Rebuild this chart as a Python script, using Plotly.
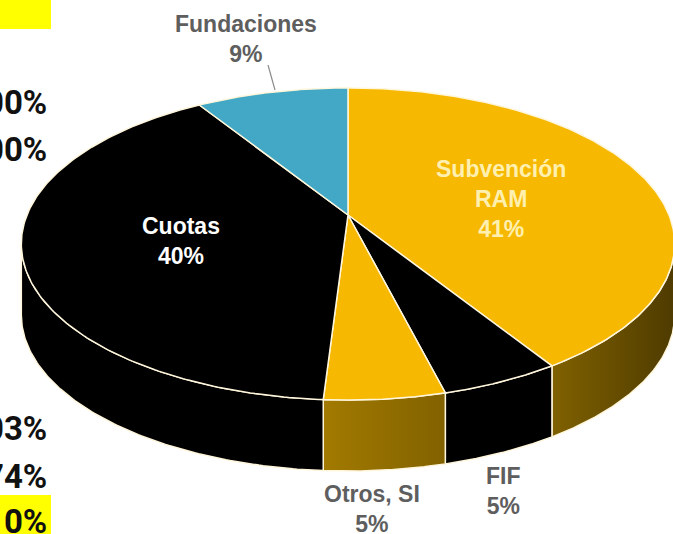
import numpy as np
import plotly.graph_objects as go

# ---------------- data ----------------
categories = ["Subvención RAM", "FIF", "Otros, SI", "Cuotas", "Fundaciones"]
values = [41, 5, 5, 40, 9]
side_fragments = ["00%", "00%", "03%", "74%", "10%"]

# ---------------- styles ----------------
top_colors = ["#F6B800", "#000000", "#F6B800", "#000000", "#42A8C5"]
side_scales = [
    [[0, "#806100"], [1, "#4E3B00"]],
    [[0, "#000000"], [1, "#000000"]],
    [[0, "#A27A00"], [1, "#826200"]],
    [[0, "#000000"], [1, "#000000"]],
    [[0, "#2A6F84"], [1, "#2A6F84"]],
]
label_colors = ["#FFF0B0", "#5E5E5E", "#5E5E5E", "#FFFFFF", "#5E5E5E"]
label_pos = [(501, 199), (503, 491), (372, 509), (181, 241), (246, 39)]
edge = "#FFF6DC"

W, H = 673, 534
cx, cy = 348, 215          # screen position of the pie centre
D = 4.76                    # camera distance (pie radius = 1)
th = np.radians(28)         # elevation
f = 1528                    # focal scale
depth_px = 71               # pie thickness on screen

ct, st = np.cos(th), np.sin(th)


def proj(X, Y):
    d = Y * ct + D
    up = Y * st
    return cx + f * X / d, cy - f * up / d


total = sum(values)
cum = np.concatenate([[0], np.cumsum(values)]) / total * 2 * np.pi

fig = go.Figure()

# visible range of the outer wall: between the horizontal extremes of the rim
phi_s = np.arccos(-ct / D)
vis0, vis1 = phi_s, 2 * np.pi - phi_s

# side walls
for i in range(len(values)):
    a0, a1 = max(cum[i], vis0), min(cum[i + 1], vis1)
    if a1 <= a0:
        continue
    phi = np.linspace(a0, a1, 120)
    xt, yt = proj(np.sin(phi), np.cos(phi))
    xs = np.concatenate([xt, xt[::-1], xt[:1]])
    ys = np.concatenate([yt, yt[::-1] + depth_px, yt[:1]])
    fig.add_trace(go.Scatter(
        x=xs, y=ys, mode="lines", fill="toself",
        fillgradient=dict(type="horizontal", colorscale=side_scales[i]),
        line=dict(color=edge, width=1.5), hoverinfo="skip", showlegend=False))

# top faces
for i in range(len(values)):
    phi = np.linspace(cum[i], cum[i + 1], 200)
    xa, ya = proj(np.sin(phi), np.cos(phi))
    x0, y0 = proj(0.0, 0.0)
    xs = np.concatenate([[x0], xa, [x0]])
    ys = np.concatenate([[y0], ya, [y0]])
    fig.add_trace(go.Scatter(
        x=xs, y=ys, mode="lines", fill="toself", fillcolor=top_colors[i],
        line=dict(color=edge, width=1.5), hoverinfo="skip", showlegend=False,
        name=categories[i]))

# slice labels
for i, name in enumerate(categories):
    txt = name.replace(" RAM", "<br>RAM") + "<br>" + f"{values[i]}%"
    fig.add_annotation(x=label_pos[i][0], y=label_pos[i][1], text=txt,
                       showarrow=False, xref="x", yref="y",
                       font=dict(family="Liberation Sans, Arial", size=23,
                                 color=label_colors[i], weight="bold"))

# leader line for Fundaciones
fig.add_shape(type="line", x0=268, y0=65, x1=275, y1=90, xref="x", yref="y",
              line=dict(color="#8C8C8C", width=1.2))

# slide decorations
fig.add_shape(type="rect", x0=-5, y0=-5, x1=51, y1=29, xref="x", yref="y",
              fillcolor="#FFFF00", line=dict(width=0), layer="below")
fig.add_shape(type="rect", x0=-5, y0=495, x1=51, y1=540, xref="x", yref="y",
              fillcolor="#FFFF00", line=dict(width=0), layer="below")

frag_y = [102, 149, 428, 476, 521]
for t, yy in zip(side_fragments, frag_y):
    fig.add_annotation(x=49, y=yy, text=t, showarrow=False, xref="x", yref="y",
                       xanchor="right", yanchor="middle",
                       font=dict(family="Roboto, Liberation Sans, Arial",
                                 size=33, color="#111111", weight="bold"))

fig.update_xaxes(range=[0, W], visible=False, fixedrange=True)
fig.update_yaxes(range=[H, 0], visible=False, fixedrange=True)
fig.update_layout(width=W, height=H, margin=dict(l=0, r=0, t=0, b=0),
                  paper_bgcolor="white", plot_bgcolor="white", showlegend=False)

fig.write_html("out.html", config={"displayModeBar": False},
               post_script="document.body.style.margin='0';")
